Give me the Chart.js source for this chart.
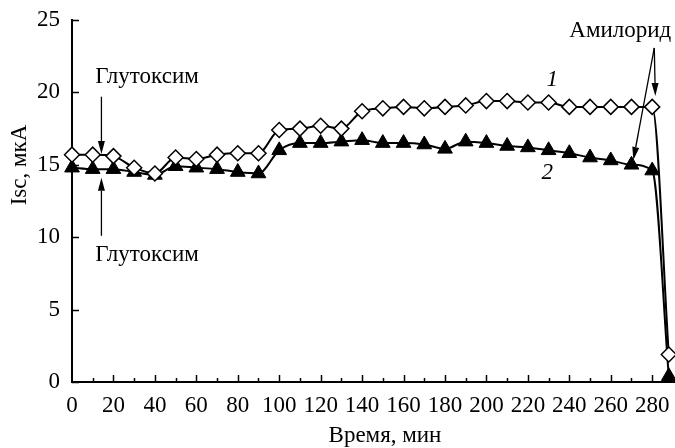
<!DOCTYPE html>
<html>
<head>
<meta charset="utf-8">
<script src="https://cdn.jsdelivr.net/npm/chart.js@4"></script>
<style>
  body { margin: 0; background: #fff; }
</style>
</head>
<body>
<canvas id="chart" width="675" height="448"></canvas>
<script>
// time points, min
const times = [0, 10, 20, 30, 40, 50, 60, 70, 80, 90, 100, 110, 120, 130, 140, 150,
    160, 170, 180, 190, 200, 210, 220, 230, 240, 250, 260, 270, 280, 288];
// curve 1 (open diamonds), Isc, мкА
const isc1 = [15.7, 15.7, 15.6, 14.8, 14.4, 15.5, 15.4, 15.7, 15.8, 15.8, 17.4, 17.5, 17.7, 17.5, 18.7, 18.9,
    19.0, 18.9, 19.0, 19.1, 19.4, 19.4, 19.3, 19.3, 19.0, 19.0, 19.0, 19.0, 19.0, 1.9];
// curve 2 (filled triangles), Isc, мкА
const isc2 = [14.8, 14.7, 14.7, 14.5, 14.3, 14.9, 14.8, 14.7, 14.5, 14.4, 16.0, 16.5, 16.5, 16.6, 16.7, 16.5,
    16.5, 16.4, 16.1, 16.6, 16.5, 16.3, 16.2, 16.0, 15.8, 15.5, 15.3, 15.0, 14.6, 0.4];
const xTicks = [0, 20, 40, 60, 80, 100, 120, 140, 160, 180, 200, 220, 240, 260, 280];
const yTicks = [0, 5, 10, 15, 20, 25];
const curveNames = ["1", "2"];
const xTitle = "Время, мин";
const yTitle = "Isc, мкА";

const serif = "'Liberation Serif', 'Times New Roman', serif";

function arrow(ctx, x1, y1, x2, y2) {
    const a = Math.atan2(y2 - y1, x2 - x1);
    const len = 13, half = 3.5;
    const bx = x2 - Math.cos(a) * len, by = y2 - Math.sin(a) * len;
    ctx.beginPath();
    ctx.moveTo(x1, y1);
    ctx.lineTo(bx, by);
    ctx.stroke();
    ctx.beginPath();
    ctx.moveTo(x2, y2);
    ctx.lineTo(bx + Math.sin(a) * half, by - Math.cos(a) * half);
    ctx.lineTo(bx - Math.sin(a) * half, by + Math.cos(a) * half);
    ctx.closePath();
    ctx.fill();
}

// inward ticks (like the printed figure)
const innerTicks = {
    id: "innerTicks",
    beforeDatasetsDraw(chart) {
        const { ctx, chartArea: a, scales: { x, y } } = chart;
        ctx.save();
        ctx.strokeStyle = "#000";
        ctx.lineWidth = 1.5;
        for (let v = 10; v <= 280; v += 10) {
            const px = Math.round(x.getPixelForValue(v)) + 0.5;
            const len = xTicks.includes(v) ? 7 : 4;
            ctx.beginPath();
            ctx.moveTo(px, a.bottom);
            ctx.lineTo(px, a.bottom - len);
            ctx.stroke();
        }
        yTicks.forEach((v) => {
            const py = Math.round(y.getPixelForValue(v)) + 0.5;
            ctx.beginPath();
            ctx.moveTo(a.left, py);
            ctx.lineTo(a.left + 7, py);
            ctx.stroke();
        });
        ctx.restore();
    },
};

// axis titles, curve numbers, arrows
const notes = {
    id: "notes",
    afterDraw(chart) {
        const { ctx, scales: { x, y } } = chart;
        const X = (v) => x.getPixelForValue(v);
        const Y = (v) => y.getPixelForValue(v);
        ctx.save();
        ctx.fillStyle = "#000";
        ctx.strokeStyle = "#000";
        ctx.lineWidth = 1.3;
        ctx.textAlign = "center";
        ctx.textBaseline = "middle";
        ctx.font = "23px " + serif;

        ctx.fillText(xTitle, 385, 436);
        ctx.save();
        ctx.translate(20, 165);
        ctx.rotate(-Math.PI / 2);
        ctx.fillText(yTitle, 0, 0);
        ctx.restore();

        ctx.fillText("Глутоксим", X(36.2), Y(21.1));
        arrow(ctx, X(14.2), Y(19.7), X(14.2), Y(15.75));
        ctx.fillText("Глутоксим", X(36.2), Y(8.77));
        arrow(ctx, X(14.2), Y(10.1), X(14.2), Y(14.1));

        ctx.fillText("Амилорид", X(264.6), Y(24.24));
        arrow(ctx, X(281), Y(23.07), X(281.5), Y(19.75));
        arrow(ctx, X(281), Y(23.07), X(270.9), Y(15.33));

        ctx.font = "italic 23px " + serif;
        ctx.fillText(curveNames[0], X(231.8), Y(20.86));
        ctx.fillText(curveNames[1], X(229.4), Y(14.43));
        ctx.restore();
    },
};

const ctx = document.getElementById("chart").getContext("2d");
const chart = new Chart(ctx, {
    type: "line",
    data: {
        datasets: [
            {
                label: curveNames[0],
                data: times.map((t, i) => ({ x: t, y: isc1[i] })),
                borderColor: "#000",
                borderWidth: 2,
                cubicInterpolationMode: "monotone",
                pointStyle: "rectRot",
                pointRadius: 7.5,
                pointBackgroundColor: "#fff",
                pointBorderColor: "#000",
                pointBorderWidth: 1.5,
                clip: false,
            },
            {
                label: curveNames[1],
                data: times.map((t, i) => ({ x: t, y: isc2[i] })),
                borderColor: "#000",
                borderWidth: 2,
                cubicInterpolationMode: "monotone",
                pointStyle: "triangle",
                pointRadius: 8.5,
                pointBackgroundColor: "#000",
                pointBorderColor: "#000",
                pointBorderWidth: 1,
                clip: false,
            },
        ],
    },
    options: {
        responsive: false,
        animation: false,
        devicePixelRatio: 1,
        layout: { autoPadding: false, padding: { top: 20, right: 0, left: 0, bottom: 0 } },
        scales: {
            x: {
                type: "linear",
                min: 0,
                max: 291,
                afterFit: (scale) => {
                    scale.height = 66;
                    scale.paddingLeft = 0;
                    scale.paddingRight = 0;
                },
                afterBuildTicks: (scale) => { scale.ticks = xTicks.map((v) => ({ value: v })); },
                grid: { display: false, drawTicks: false },
                border: { display: true, color: "#000", width: 2 },
                ticks: {
                    padding: 10,
                    color: "#000",
                    maxRotation: 0,
                    autoSkip: false,
                    font: { family: serif, size: 23 },
                },
            },
            y: {
                min: 0,
                max: 25,
                afterFit: (scale) => {
                    scale.width = 72;
                    scale.paddingTop = 0;
                    scale.paddingBottom = 0;
                },
                afterBuildTicks: (scale) => { scale.ticks = yTicks.map((v) => ({ value: v })); },
                grid: { display: false, drawTicks: false },
                border: { display: true, color: "#000", width: 2 },
                ticks: {
                    padding: 12,
                    color: "#000",
                    font: { family: serif, size: 23 },
                },
            },
        },
        plugins: {
            legend: { display: false },
            tooltip: { enabled: false },
        },
    },
    plugins: [innerTicks, notes],
});
</script>
</body>
</html>
